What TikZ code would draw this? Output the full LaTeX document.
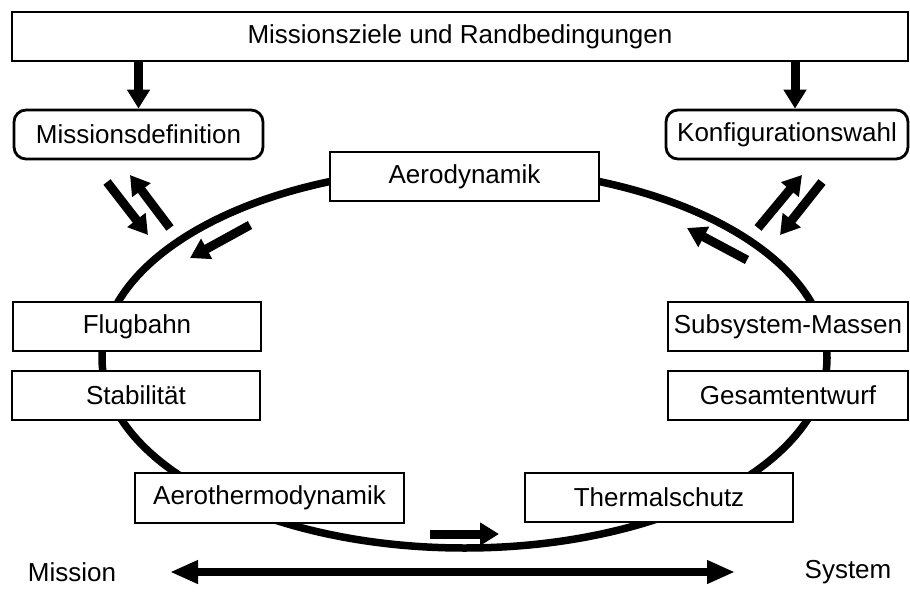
\documentclass[tikz,border=0pt]{standalone}
\usepackage{fontspec}
\setmainfont{Liberation Sans}
\usetikzlibrary{arrows.meta}
\begin{document}
\begin{tikzpicture}[x=1pt,y=-1pt,
  box/.style={draw,line width=2.8pt,fill=white,inner sep=0pt,minimum height=49pt,font=\fontsize{26}{30}\selectfont},
  rbox/.style={box,rounded corners=12pt},
  lbl/.style={inner sep=0pt,font=\fontsize{26}{30}\selectfont},
  blk/.style={line width=9pt,-{Triangle[width=22pt,length=19pt]}},
  dbl/.style={line width=8pt,{Triangle[width=22pt,length=28pt]}-{Triangle[width=22pt,length=28pt]}}]
\useasboundingbox (0,0) rectangle (910,613);
% ring
\draw[line width=7.5pt] (464.5,358) ellipse [x radius=362.5pt, y radius=190pt];
% nodes
\node[box,minimum width=896pt] (top) at (460,36.5) {Missionsziele und Randbedingungen};
\node[rbox,minimum width=249pt] (md) at (138.5,134.5) {Missionsdefinition};
\node[rbox,minimum width=242pt] (kw) at (787,134.5) {Konfigurationswahl};
\node[box,minimum width=269pt] (aero) at (464.5,176.5) {Aerodynamik};
\node[box,minimum width=248pt] (flug) at (137,326.5) {Flugbahn};
\node[box,minimum width=248pt] (stab) at (136,395.5) {Stabilität};
\node[box,minimum width=240pt] (subs) at (788,326.5) {Subsystem-Massen};
\node[box,minimum width=240pt] (ges) at (788,395.5) {Gesamtentwurf};
\node[box,minimum width=269pt,minimum height=50pt] (athermo) at (269.5,498) {Aerothermodynamik};
\node[box,minimum width=268pt] (therm) at (659,497.5) {Thermalschutz};
\node[lbl] (mis) at (72,572) {Mission};
\node[lbl] (sys) at (848,572) {System};
% vertical arrows
\coordinate (kx) at (795,0);
\draw[blk] (top.south -| md) -- (md.north);
\draw[blk] (top.south -| kx) -- (kw.north -| kx);
% left arrows
\coordinate (a1s) at (107,182); \coordinate (a1e) at (148,235);
\coordinate (a2s) at (170,228); \coordinate (a2e) at (130,175);
\coordinate (a3s) at (250,225); \coordinate (a3e) at (190,258);
\draw[blk] (a1s) -- (a1e);
\draw[blk] (a2s) -- (a2e);
\draw[blk] (a3s) -- (a3e);
% right arrows
\coordinate (b1s) at (758,228); \coordinate (b1e) at (802,175);
\coordinate (b2s) at (822,182); \coordinate (b2e) at (780,235);
\coordinate (b3s) at (747,260); \coordinate (b3e) at (687,228);
\draw[blk] (b1s) -- (b1e);
\draw[blk] (b2s) -- (b2e);
\draw[blk] (b3s) -- (b3e);
% bottom arrow
\coordinate (cs) at (430,534); \coordinate (ce) at (499,534);
\draw[blk] (cs) -- (ce);
% mission-system axis
\draw[dbl] (mis.east -| 170,0) -- (sys.west -| 735,0);
\end{tikzpicture}
\end{document}
